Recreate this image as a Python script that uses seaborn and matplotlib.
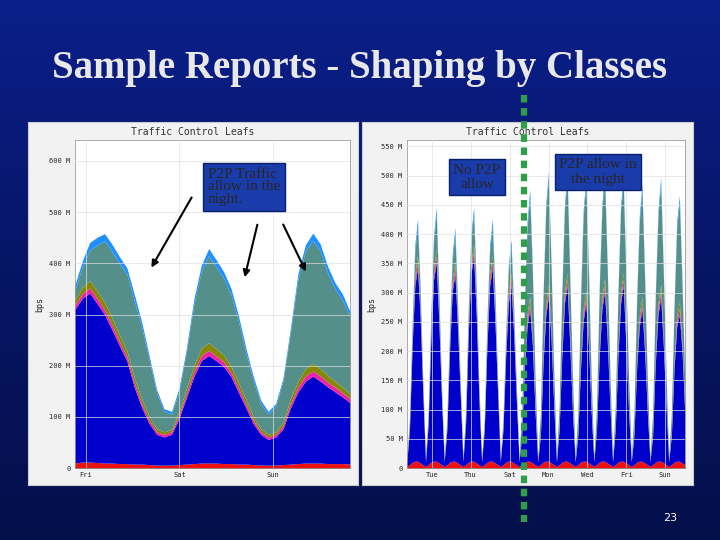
import numpy as np
import matplotlib
matplotlib.use("Agg")
import matplotlib.pyplot as plt
import seaborn as sns
from matplotlib.colors import LinearSegmentedColormap

sns.set_style("white")

# ---- data (Mbps) ----
left_blue = [300,320,330,310,290,260,230,200,150,110,80,60,55,60,90,130,170,200,210,200,190,170,140,110,80,60,50,55,70,110,140,160,170,160,150,140,130,120]
left_teal = [20,40,60,90,120,130,140,150,150,140,110,70,40,30,40,70,120,150,170,160,150,140,120,90,70,50,40,50,80,130,200,230,240,230,200,180,170,150]
left_red  = [10,12,12,11,10,10,9,9,8,8,7,6,6,6,7,8,9,10,10,10,9,9,8,8,7,6,6,6,7,8,9,10,10,10,9,9,9,8]
left_mag  = [8,9,10,10,9,9,8,8,8,7,6,5,5,5,6,8,9,10,10,9,9,8,8,7,6,5,5,5,6,8,9,10,10,10,9,9,8,8]
left_olive= [10,12,14,15,15,14,13,12,11,10,8,6,5,5,7,10,12,14,15,14,13,12,11,10,8,6,5,5,7,10,12,14,15,14,13,12,11,10]
left_lb   = [10,12,15,15,14,14,13,12,12,10,8,6,5,5,6,8,10,12,14,14,13,12,11,10,8,6,5,5,6,8,10,12,14,14,13,12,12,10]
left_ticks = ["Fri","Sat","Sun"]

right_blue = [8,60,200,300,330,250,120,
              8,70,210,310,340,240,110,
              8,60,190,290,320,230,120,
              8,70,220,320,350,250,110,
              8,60,200,300,330,240,120,
              8,60,180,270,300,220,110,
              8,50,160,230,260,200,90,
              8,50,170,250,280,210,100,
              8,60,180,270,300,200,90,
              8,50,160,240,270,200,90,
              8,60,180,260,290,210,100,
              8,60,180,270,300,200,90,
              8,50,160,230,260,190,90,
              8,50,170,250,280,200,100,
              8,50,160,230,250,190,90]
right_teal = [4,10,20,40,50,30,15,
              4,10,25,45,60,30,15,
              4,10,20,35,45,25,15,
              4,10,25,40,50,30,15,
              4,10,25,40,50,30,15,
              4,10,20,35,45,25,15,
              4,30,90,150,170,110,50,
              4,30,100,160,180,110,50,
              4,30,90,140,160,100,50,
              4,30,100,160,180,110,50,
              4,30,100,150,170,110,50,
              4,30,90,140,150,100,50,
              4,30,100,160,180,110,50,
              4,30,100,150,170,110,50,
              4,30,90,150,170,100,50]
right_red  = [3,6,10,12,12,9,6]*15
right_mag  = [1,3,6,9,10,6,3]*15
right_olive= [1,3,7,10,12,7,3]*15
right_lb   = [1,3,7,10,12,7,3]*15
right_ticks = ["Tue","Thu","Sat","Mon","Wed","Fri","Sun"]

colors = ["#ee1111", "#0000cc", "#ee22aa", "#888800", "#558f8a", "#1e90ff"]

fig = plt.figure(figsize=(7.2, 5.4), dpi=100)
bg = fig.add_axes([0, 0, 1, 1])
grad = np.linspace(0, 1, 256).reshape(-1, 1)
cmap = LinearSegmentedColormap.from_list("bg", ["#0a1f8a", "#071566", "#04104a"])
bg.imshow(grad, aspect="auto", cmap=cmap, extent=[0, 1, 0, 1])
bg.set_xlim(0, 1); bg.set_ylim(0, 1); bg.axis("off")

fig.text(0.5, 0.873, "Sample Reports - Shaping by Classes", ha="center", va="center",
         color="#e8e8e8", fontsize=28, family="Liberation Serif", weight="bold")

def panel(px, pw, ax_rect, layers, yticks, ylabels, ymax, xt, ntick_pos):
    pa = fig.add_axes([px, 0.102, pw, 0.672])
    pa.set_facecolor("#f2f2f2"); pa.set_xticks([]); pa.set_yticks([])
    for s in pa.spines.values():
        s.set_color("#cccccc")
    pa.text(0.5, 0.985, "Traffic Control Leafs", transform=pa.transAxes, ha="center",
            va="top", fontsize=7, family="DejaVu Sans Mono", color="#333333")
    ax = fig.add_axes(ax_rect)
    ax.set_facecolor("white")
    n = len(layers[0])
    x = np.arange(n)
    ax.stackplot(x, *layers, colors=colors, linewidth=0)
    ax.set_xlim(0, n - 1); ax.set_ylim(0, ymax)
    ax.set_yticks(yticks)
    ax.set_yticklabels(ylabels, fontsize=5, family="DejaVu Sans Mono")
    ax.set_xticks([p * (n - 1) for p in ntick_pos])
    ax.set_xticklabels(xt, fontsize=5, family="DejaVu Sans Mono")
    ax.set_ylabel("bps", fontsize=6, family="DejaVu Sans Mono")
    ax.grid(True, color="#e0e0e0", linewidth=0.5)
    ax.set_axisbelow(False)
    for s in ax.spines.values():
        s.set_color("#888888"); s.set_linewidth(0.5)
    ax.tick_params(length=2, pad=1)
    return ax

panel(0.039, 0.458, [0.104, 0.133, 0.382, 0.607],
      [left_red, left_blue, left_mag, left_olive, left_teal, left_lb],
      list(range(0, 601, 100)), ["0"] + [f"{v} M" for v in range(100, 601, 100)], 640,
      left_ticks, [0.04, 0.38, 0.72])
panel(0.503, 0.46, [0.565, 0.133, 0.386, 0.607],
      [right_red, right_blue, right_mag, right_olive, right_teal, right_lb],
      list(range(0, 551, 50)), ["0"] + [f"{v} M" for v in range(50, 551, 50)], 560,
      right_ticks, [0.09, 0.23, 0.37, 0.51, 0.65, 0.79, 0.93])

# overlay for annotations
ov = fig.add_axes([0, 0, 1, 1])
ov.set_xlim(0, 720); ov.set_ylim(540, 0); ov.axis("off"); ov.patch.set_alpha(0)
boxkw = dict(boxstyle="square,pad=0.3", fc="#1a3caa", ec="#0a1f6a")
ov.text(208, 187, "P2P Traffic\nallow in the\nnight.", ha="left", va="center",
        fontsize=11, family="Liberation Serif", bbox=boxkw, linespacing=1.0)
ov.text(477, 177, "No P2P\nallow", ha="center", va="center",
        fontsize=11, family="Liberation Serif", bbox=boxkw, linespacing=1.1)
ov.text(598, 172, "P2P allow in\nthe night", ha="center", va="center",
        fontsize=11, family="Liberation Serif", bbox=boxkw, linespacing=1.1)
for sx, sy, ex, ey in [(193, 195, 150, 270), (258, 222, 244, 280), (282, 222, 307, 274)]:
    ov.annotate("", xy=(ex, ey), xytext=(sx, sy),
                arrowprops=dict(arrowstyle="-|>", color="black", lw=1.5))
ov.plot([524, 524], [95, 522], color="#2e9e4a", lw=4.5, ls=(0, (1.2, 0.9)))
ov.text(670, 518, "23", color="white", fontsize=8, ha="center", va="center")

fig.savefig("out.png", dpi=100)
